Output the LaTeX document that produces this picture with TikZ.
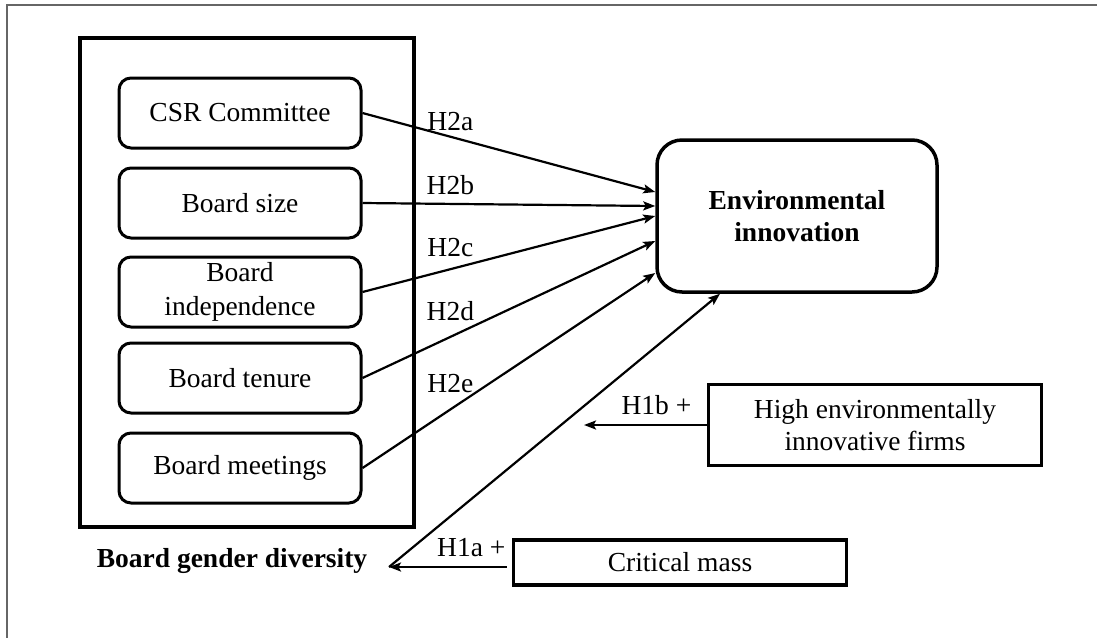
\documentclass[tikz,border=0pt]{standalone}
\usepackage{fontspec}
\setmainfont{Liberation Serif}
\usetikzlibrary{arrows.meta}
\colorlet{frameLine}{black!60}
\colorlet{boxLine}{black}

\begin{document}
\begin{tikzpicture}[
  x=1pt, y=-1pt,
  every node/.style={
    font=\fontsize{27.5}{32}\selectfont
  },
  factor/.style={
    draw=boxLine, line width=3pt,
    rounded corners=12pt,
    minimum width=242pt, minimum height=70pt,
    align=center
  },
  moderator/.style={
    draw=boxLine, line width=3.3pt,
    minimum width=333pt,
    align=center
  },
  link/.style={
    line width=2.2pt,
    -{Stealth[length=12pt,width=9pt,inset=2.5pt]}
  },
  hyp/.style={pos=0.3, above=#1},
  hyp/.default=6pt
]
\useasboundingbox (0,0) rectangle (1097,638);
\draw[frameLine, line width=1.4pt] (1097,5) -- (7,5) -- (7,638);

% board attributes
\node[draw=boxLine, line width=3.5pt, minimum width=334pt, minimum height=489pt] (boardbox) at (247,282.5) {};
\node[factor] (csr) at (240,113) {CSR Committee};
\node[factor] (size) at (240,203) {Board size};
\node[factor, font=\fontsize{27.5}{34}\selectfont] (indep) at (240,292) {Board\\independence};
\node[factor] (tenure) at (240,378) {Board tenure};
\node[factor] (meet) at (240,468) {Board meetings};
\node[font=\fontsize{27.5}{32}\selectfont\bfseries] (bgdlabel) at (232,561) {Board gender diversity};

% outcome and moderators
\node[draw=boxLine, line width=3.5pt, rounded corners=25pt, minimum width=280pt, minimum height=152pt,
  font=\fontsize{27.5}{32}\selectfont\bfseries, align=center] (envinn) at (797,216) {Environmental\\innovation};
\node[moderator, minimum height=81pt] (highfirms) at (875,425) {High environmentally\\innovative firms};
\node[moderator, minimum height=45pt] (critmass) at (680,562.5) {Critical mass};

\coordinate (bgdpoint) at (389,567);
\coordinate (modpoint) at (584,425);

% hypotheses
\draw[link] (csr.east) -- node[hyp=2pt] {H2a} ([yshift=24pt]envinn.west);
\draw[link] (size.east) -- node[hyp=5pt] {H2b} ([yshift=10pt]envinn.west);
\draw[link] (indep.east) -- node[hyp=8pt] {H2c} (envinn.west);
\draw[link] (tenure.east) -- node[hyp=12pt] {H2d} ([yshift=-25pt]envinn.west);
\draw[link] (meet.east) -- node[hyp=12pt] {H2e} ([yshift=-57pt]envinn.west);
\draw[link] (bgdpoint) -- ([xshift=-77pt]envinn.south);
\draw[link, shorten <=5pt] (bgdpoint -| critmass.west) -- node[pos=0.33, above=6pt] {H1a +} (bgdpoint);
\draw[link] (highfirms.west) -- node[pos=0.41, above=6pt] {H1b +} (modpoint);
\end{tikzpicture}
\end{document}
